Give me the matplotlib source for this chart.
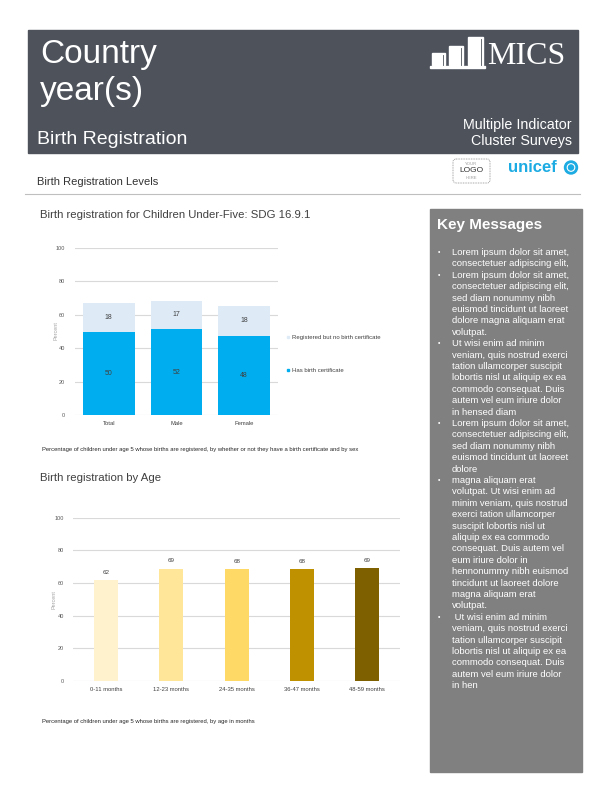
import matplotlib.pyplot as plt
from matplotlib.patches import Rectangle, FancyBboxPatch, Circle

plt.rcParams['font.family'] = ['Liberation Sans', 'DejaVu Sans']

W, H = 612, 792

# chart 1: birth registration by sex (stacked)
sex_groups = ['Total', 'Male', 'Female']
has_certificate = [49.6, 51.6, 47.6]
registered_no_cert = [17.6, 16.8, 17.8]

# chart 2: birth registration by age
age_groups = ['0-11 months', '12-23 months', '24-35 months', '36-47 months', '48-59 months']
age_registered = [61.6, 68.8, 68.4, 68.4, 68.9]
age_colors = ['#fff2cc', '#ffe699', '#ffd966', '#bf9000', '#7f6000']

y_ticks = [0, 20, 40, 60, 80, 100]

key_messages = [
    ['Lorem ipsum dolor sit amet,', 'consectetuer adipiscing elit,'],
    ['Lorem ipsum dolor sit amet,', 'consectetuer adipiscing elit,', 'sed diam nonummy nibh',
     'euismod tincidunt ut laoreet', 'dolore magna aliquam erat', 'volutpat.'],
    ['Ut wisi enim ad minim', 'veniam, quis nostrud exerci', 'tation ullamcorper suscipit',
     'lobortis nisl ut aliquip ex ea', 'commodo consequat. Duis', 'autem vel eum iriure dolor',
     'in hensed diam'],
    ['Lorem ipsum dolor sit amet,', 'consectetuer adipiscing elit,', 'sed diam nonummy nibh',
     'euismod tincidunt ut laoreet', 'dolore'],
    ['magna aliquam erat', 'volutpat. Ut wisi enim ad', 'minim veniam, quis nostrud',
     'exerci tation ullamcorper', 'suscipit lobortis nisl ut', 'aliquip ex ea commodo',
     'consequat. Duis autem vel', 'eum iriure dolor in', 'hennonummy nibh euismod',
     'tincidunt ut laoreet dolore', 'magna aliquam erat', 'volutpat.'],
    [' Ut wisi enim ad minim', 'veniam, quis nostrud exerci', 'tation ullamcorper suscipit',
     'lobortis nisl ut aliquip ex ea', 'commodo consequat. Duis', 'autem vel eum iriure dolor',
     'in hen'],
]


def px_axes(fig, x0, y0, x1, y1):
    # pixel box (top-left origin) -> figure axes
    return fig.add_axes([x0 / W, 1 - y1 / H, (x1 - x0) / W, (y1 - y0) / H])


def style_axes(ax, labels, pad_y):
    ax.set_ylim(0, 100)
    ax.set_xlim(-0.5, len(labels) - 0.5)
    ax.set_yticks(y_ticks)
    ax.set_xticks(range(len(labels)))
    ax.set_xticklabels(labels)
    ax.yaxis.grid(True, color='#d9d9d9', lw=0.8)
    ax.set_axisbelow(True)
    for s in ax.spines.values():
        s.set_visible(False)
    ax.tick_params(axis='y', length=0, pad=pad_y, labelsize=4, labelcolor='#595959')
    ax.tick_params(axis='x', length=0, pad=4, labelsize=4.2, labelcolor='#404040')


fig = plt.figure(figsize=(6.12, 7.92), dpi=100)
bg = fig.add_axes([0, 0, 1, 1])
bg.set_xlim(0, W)
bg.set_ylim(H, 0)
bg.axis('off')

# header band
bg.add_patch(Rectangle((28, 30), 550, 123, color='#4d525b', zorder=0))
bg.text(40, 63, 'Country', color='white', fontsize=24, va='baseline')
bg.text(40, 100, 'year(s)', color='white', fontsize=24, va='baseline')
bg.text(37, 144, 'Birth Registration', color='white', fontsize=14, va='baseline')

# MICS logo
for x0, x1, top in [(432, 445, 53), (449, 463, 46), (468, 483, 37)]:
    bg.add_patch(Rectangle((x0, top), x1 - x0, 65 - top, color='white', zorder=2))
    bg.plot([x1 - 2, x1 - 2], [top + 2, 65], color='#4d525b', lw=0.6, zorder=3)
bg.add_patch(Rectangle((430, 66), 55, 1.5, color='white', zorder=2))
bg.text(487, 64.5, 'MICS', color='white', fontsize=23, family=['Liberation Serif', 'DejaVu Serif'],
        va='baseline')
bg.text(572, 129, 'Multiple Indicator', color='white', fontsize=10.3, ha='right', va='baseline')
bg.text(572, 145, 'Cluster Surveys', color='white', fontsize=10.3, ha='right', va='baseline')

# logo placeholder + unicef
bg.add_patch(FancyBboxPatch((453, 159), 37, 24, boxstyle='round,pad=0,rounding_size=3',
                            fill=False, ec='#888888', lw=0.6, ls=(0, (1, 1))))
bg.text(471.5, 164, 'YOUR', fontsize=3, color='#999999', ha='center', va='center')
bg.text(471.5, 171, 'LOGO', fontsize=6, color='#333333', ha='center', va='center')
bg.text(471.5, 178, 'HERE', fontsize=3, color='#999999', ha='center', va='center')
bg.text(508, 168, 'unicef', color='#1cabe2', fontsize=12, fontweight='bold', va='center')
bg.add_patch(Circle((571, 167.5), 6.5, color='#1cabe2'))
bg.add_patch(Circle((571, 167.5), 3.8, fill=False, ec='white', lw=0.8))

# section heading
bg.text(37, 182, 'Birth Registration Levels', fontsize=8, color='#333333', va='center')
bg.plot([25, 580], [194, 194], color='#bfbfbf', lw=0.8)

# chart 1
bg.text(40, 215, 'Birth registration for Children Under-Five: SDG 16.9.1', fontsize=8.2,
        color='#404040', va='center')
ax1 = px_axes(fig, 75, 247.7, 278, 415.3)
x1 = list(range(len(sex_groups)))
bars_has = ax1.bar(x1, has_certificate, width=0.76, color='#00aeef', label='Has birth certificate')
bars_reg = ax1.bar(x1, registered_no_cert, width=0.76, bottom=has_certificate, color='#deebf7',
                   label='Registered but no birth certificate')
ax1.bar_label(bars_has, labels=[f'{v:.0f}' for v in has_certificate], label_type='center',
              fontsize=5, color='#404040')
ax1.bar_label(bars_reg, labels=[f'{v:.0f}' for v in registered_no_cert], label_type='center',
              fontsize=5, color='#404040')
style_axes(ax1, sex_groups, 7)
bg.text(56, 331, 'Percent', rotation=90, fontsize=4, color='#a6a6a6', ha='center', va='center')

# legend (drawn by hand to match placement)
for y, color, text in [(337, '#deebf7', 'Registered but no birth certificate'),
                       (370, '#00aeef', 'Has birth certificate')]:
    bg.add_patch(Rectangle((287, y - 1.2), 2.4, 2.4, color=color))
    bg.text(292, y, text, fontsize=4.3, color='#404040', va='center')

bg.text(42, 449.5, 'Percentage of children under age 5 whose births are registered, by whether or not '
        'they have a birth certificate and by sex', fontsize=4.2, color='#262626', va='center')

# chart 2
bg.text(40, 478, 'Birth registration by Age', fontsize=8.2, color='#404040', va='center')
ax2 = px_axes(fig, 73.3, 517.7, 400, 681)
x2 = list(range(len(age_groups)))
bars_age = ax2.bar(x2, age_registered, width=0.37, color=age_colors)
ax2.bar_label(bars_age, labels=[f'{v:.0f}' for v in age_registered], padding=4, fontsize=4.5,
              color='#404040')
style_axes(ax2, age_groups, 6.5)
bg.text(54, 600, 'Percent', rotation=90, fontsize=4, color='#a6a6a6', ha='center', va='center')
bg.text(42, 721, 'Percentage of children under age 5 whose births are registered, by age in months',
        fontsize=4.2, color='#262626', va='center')

# key messages panel
bg.add_patch(Rectangle((430, 209), 152, 563, color='#808080', zorder=0))
bg.text(437, 225, 'Key Messages', color='white', fontsize=11, fontweight='bold', va='center')
y = 252.5
for block in key_messages:
    bg.text(438, y, '\u2022', color='white', fontsize=5, va='center')
    for line in block:
        bg.text(452, y, line, color='white', fontsize=6.8, va='center')
        y += 11.4

fig.savefig('out.png', dpi=100)
